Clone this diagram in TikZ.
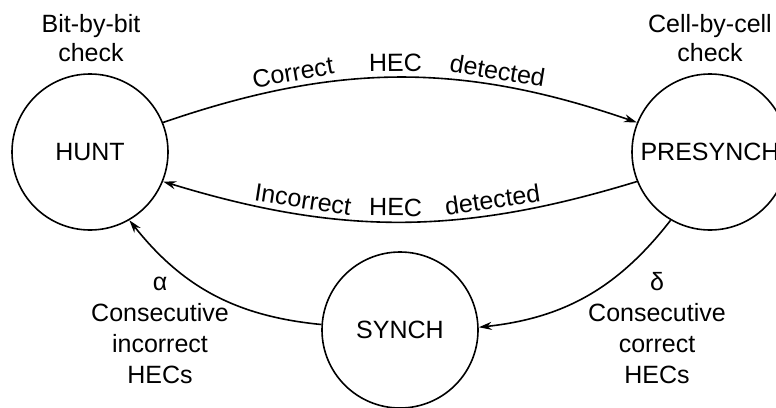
\documentclass[tikz,border=0pt]{standalone}
\usepackage{fontspec}
\setmainfont{Liberation Sans}
\usetikzlibrary{arrows.meta}
\begin{document}
\begin{tikzpicture}[x=1pt,y=1pt,
  every node/.style={font=\fontsize{25}{30}\selectfont},
  state/.style={circle, draw, line width=1.6pt, minimum size=156pt, inner sep=0pt},
  trans/.style={line width=1.6pt, -{Stealth[length=13pt,width=8pt]}},
  lbl/.style={sloped, above, inner sep=5pt},
  note/.style={align=center}
]
\clip (0,0) rectangle (776,-407);
\node[state] (hunt) at (90,-152) {HUNT};
\node[state] (presynch) at (710,-152) {PRESYNCH};
\node[state] (synch) at (400,-330) {SYNCH};

\draw[trans] (hunt.22) to[bend left=19]
  node[lbl,pos=0.27] (l1) {Correct}
  node[lbl,pos=0.49] (l2) {HEC}
  node[lbl,pos=0.71] (l3) {detected} (presynch.158);
\draw[trans] (presynch.202) to[bend left=17]
  node[lbl,pos=0.29] (l4) {detected}
  node[lbl,pos=0.51] (l5) {HEC}
  node[lbl,pos=0.72] (l6) {Incorrect} (hunt.338);
\draw[trans] (synch.176) to[bend left=23] (hunt.300);
\draw[trans] (presynch.240) to[bend left=23] (synch.2);

\node[note, font=\fontsize{25}{29}\selectfont] (bitnote) at (91,-38.5) {Bit-by-bit\\check};
\node[note, font=\fontsize{25}{29}\selectfont] (cellnote) at (710,-38.5) {Cell-by-cell\\check};
\node[note, font=\fontsize{25}{31}\selectfont] (alphanote) at (160,-330.5) {α\\Consecutive\\incorrect\\HECs};
\node[note, font=\fontsize{25}{31}\selectfont] (deltanote) at (657,-328) {δ\\Consecutive\\correct\\HECs};
\end{tikzpicture}
\end{document}
